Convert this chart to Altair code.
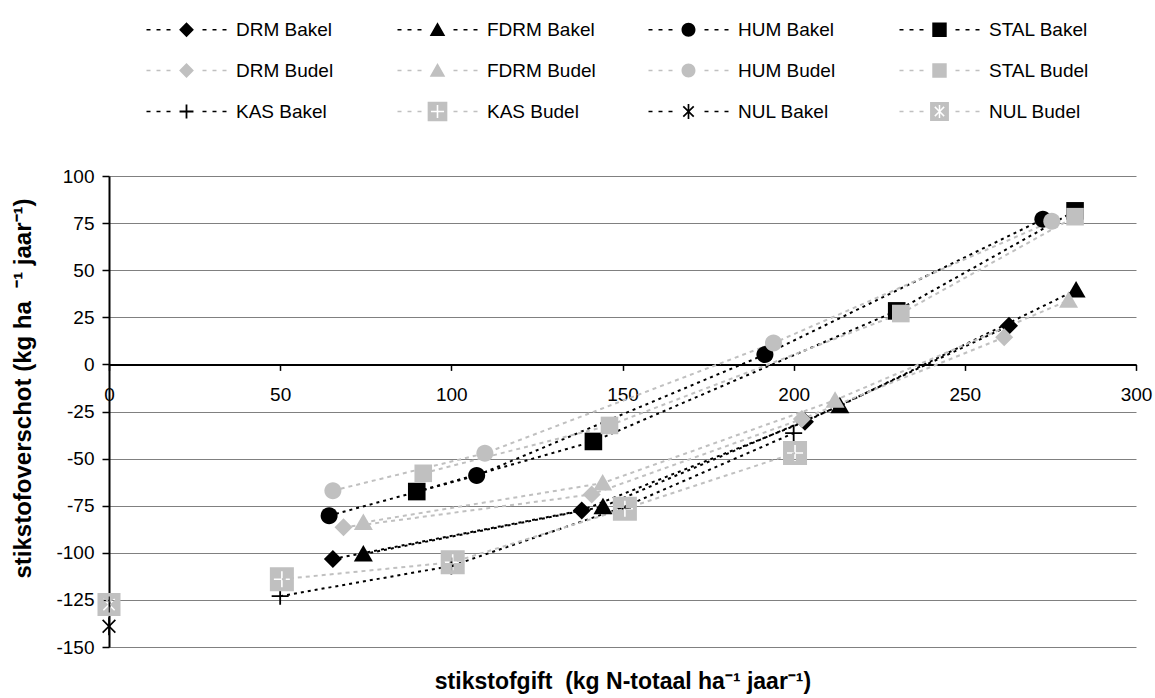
import math
import altair as alt
import pandas as pd

# ---- series names (legend order) ----
SERIES = [
    "DRM Bakel", "FDRM Bakel", "HUM Bakel", "STAL Bakel",
    "DRM Budel", "FDRM Budel", "HUM Budel", "STAL Budel",
    "KAS Bakel", "KAS Budel", "NUL Bakel", "NUL Budel",
]

# ---- stikstofgift (x) and stikstofoverschot (y) per series ----
drm_bakel_x = [65.4, 138.1, 203.3, 262.9]
drm_bakel_y = [-103.3, -77.5, -30.4, 20.5]
fdrm_bakel_x = [74.3, 144.3, 213.5, 282.5]
fdrm_bakel_y = [-100.7, -75.5, -22.0, 39.5]
hum_bakel_x = [64.3, 107.4, 191.6, 272.8]
hum_bakel_y = [-80.3, -59.0, 5.2, 77.0]
stal_bakel_x = [89.9, 141.5, 230.1, 282.2]
stal_bakel_y = [-67.5, -40.9, 28.4, 81.5]

drm_budel_x = [68.5, 141.0, 202.4, 261.5]
drm_budel_y = [-86.5, -69.0, -29.0, 14.4]
fdrm_budel_x = [74.3, 144.2, 212.1, 280.3]
fdrm_budel_y = [-83.9, -63.0, -19.0, 34.0]
hum_budel_x = [65.4, 109.8, 194.1, 275.4]
hum_budel_y = [-67.0, -47.2, 11.3, 76.0]
stal_budel_x = [91.8, 146.2, 231.3, 282.2]
stal_budel_y = [-57.8, -32.4, 27.0, 78.4]

kas_bakel_x = [50.0, 100.0, 150.0, 200.0]
kas_bakel_y = [-123.0, -107.0, -76.0, -36.5]
kas_budel_x = [50.5, 100.4, 150.7, 200.4]
kas_budel_y = [-114.0, -105.0, -76.6, -47.0]

nul_bakel_x = [0.0]
nul_bakel_y = [-139.0]
nul_budel_x = [0.0]
nul_budel_y = [-127.5]

x_ticks = [0, 50, 100, 150, 200, 250, 300]
y_ticks = [-150, -125, -100, -75, -50, -25, 0, 25, 50, 75, 100]

columns = [
    ("DRM Bakel", drm_bakel_x, drm_bakel_y),
    ("FDRM Bakel", fdrm_bakel_x, fdrm_bakel_y),
    ("HUM Bakel", hum_bakel_x, hum_bakel_y),
    ("STAL Bakel", stal_bakel_x, stal_bakel_y),
    ("DRM Budel", drm_budel_x, drm_budel_y),
    ("FDRM Budel", fdrm_budel_x, fdrm_budel_y),
    ("HUM Budel", hum_budel_x, hum_budel_y),
    ("STAL Budel", stal_budel_x, stal_budel_y),
    ("KAS Bakel", kas_bakel_x, kas_bakel_y),
    ("KAS Budel", kas_budel_x, kas_budel_y),
    ("NUL Bakel", nul_bakel_x, nul_bakel_y),
    ("NUL Budel", nul_budel_x, nul_budel_y),
]

rows = []
for name, xs, ys in columns:
    for xv, yv in zip(xs, ys):
        rows.append({"series": name,
                     "locatie": name.split()[-1],
                     "gift": xv, "overschot": yv})
df = pd.DataFrame(rows)

BLACK = "#000000"
GREY = "#c0c0c0"
colors = [BLACK if s.endswith("Bakel") else GREY for s in SERIES]

# ---- marker geometry (custom SVG symbol paths) ----
U = 8.5  # pixels per path unit at symbol size 289


def f(v):
    return f"{v / U:.3f}"


def signed_area(pts):
    a = 0.0
    for i in range(len(pts)):
        x1, y1 = pts[i]
        x2, y2 = pts[(i + 1) % len(pts)]
        a += x1 * y2 - x2 * y1
    return a / 2


def poly(pts):
    return "M" + "L".join(f"{f(x)},{f(y)}" for x, y in pts) + "Z"


def circle(r):
    return (f"M{f(-r)},0A{f(r)},{f(r)} 0 1,0 {f(r)},0"
            f"A{f(r)},{f(r)} 0 1,0 {f(-r)},0Z")


def square(h):
    return [(-h, -h), (h, -h), (h, h), (-h, h)]


def star(angles, length, thick):
    """Outline of thin arms radiating from the centre."""
    angles = sorted(angles)
    n = len(angles)
    pts = []
    for k, a in enumerate(angles):
        b = angles[(k + 1) % n] + (360 if k == n - 1 else 0)
        ar = math.radians(a)
        d = (math.cos(ar), math.sin(ar))
        nv = (-math.sin(ar), math.cos(ar))
        h = thick / 2
        pts.append((length * d[0] - h * nv[0], length * d[1] - h * nv[1]))
        pts.append((length * d[0] + h * nv[0], length * d[1] + h * nv[1]))
        mid = math.radians((a + b) / 2)
        dist = h / math.sin(math.radians((b - a) / 2))
        pts.append((dist * math.cos(mid), dist * math.sin(mid)))
    return pts


def box_with_hole(h, hole):
    outer = square(h)
    if (signed_area(outer) > 0) == (signed_area(hole) > 0):
        hole = hole[::-1]
    return poly(outer) + poly(hole)


PLUS = [0, 90, 180, 270]
ASTER = [45, 90, 135, 225, 270, 315]


def marker(name, s):
    kind = name.split()[0]
    if kind == "DRM":
        return poly([(0, -9 * s), (9 * s, 0), (0, 9 * s), (-9 * s, 0)])
    if kind == "FDRM":
        return poly([(0, -9 * s), (9.5 * s, 7.5 * s), (-9.5 * s, 7.5 * s)])
    if kind == "HUM":
        return circle(8.5 * s)
    if kind == "STAL":
        return poly(square(8.8 * s))
    if name == "KAS Bakel":
        return poly(star(PLUS, 8.5 * s, 1.8))
    if name == "KAS Budel":
        return box_with_hole(12 * s, star(PLUS, 8 * s, 1.6))
    if name == "NUL Bakel":
        return poly(star(ASTER, 9 * s, 1.7))
    return box_with_hole(11.5 * s, star(ASTER, 8 * s, 1.5))


def legend_symbol(name):
    dashes = ""
    for cx in (-38, -28, -18, 18, 28, 38):
        dashes += poly([(cx - 2, -0.8), (cx + 2, -0.8), (cx + 2, 0.8), (cx - 2, 0.8)])
    return dashes + marker(name, 0.82)


plot_shapes = [marker(s, 1.0) for s in SERIES]
legend_shapes = [legend_symbol(s) for s in SERIES]

FONT = "Liberation Sans"
NB = "\u00a0"

x_enc = alt.X(
    "gift:Q",
    scale=alt.Scale(domain=[0, 300], nice=False, zero=False),
    axis=alt.Axis(
        values=x_ticks, grid=False, offset=-282.6,
        domainColor=BLACK, domainWidth=2,
        tickColor=BLACK, tickWidth=1.5, tickSize=6,
        labelFont=FONT, labelFontSize=19, labelColor=BLACK,
        labelPadding=15, labelFlush=False,
        title=f"stikstofgift{NB}{NB}(kg N-totaal ha⁻¹ jaar⁻¹)",
        titleFont=FONT, titleFontSize=23, titleFontWeight="bold",
        titleColor=BLACK, titleY=316.6, titleBaseline="middle",
    ),
)
y_enc = alt.Y(
    "overschot:Q",
    scale=alt.Scale(domain=[-150, 100], nice=False, zero=False),
    axis=alt.Axis(
        values=y_ticks, grid=True, gridColor="#808080", gridWidth=1,
        domainColor=BLACK, domainWidth=2,
        tickColor=BLACK, tickWidth=1.5, tickSize=7,
        labelFont=FONT, labelFontSize=19, labelColor=BLACK,
        labelPadding=8, labelExpr="'' + datum.value",
        title=f"stikstofoverschot (kg ha{NB}{NB}⁻¹ jaar⁻¹)",
        titleFont=FONT, titleFontSize=24, titleFontWeight="bold",
        titleColor=BLACK, titleAngle=270, titleX=-86, titleY=212,
        titleBaseline="middle", titleAlign="center",
    ),
)

base = alt.Chart(df)

bakel_lines = base.transform_filter("datum.locatie == 'Bakel'").mark_line(
    color=BLACK, strokeWidth=2, strokeDash=[3, 4]
).encode(x=x_enc, y=y_enc, detail="series:N")

budel_lines = base.transform_filter("datum.locatie == 'Budel'").mark_line(
    color=GREY, strokeWidth=2, strokeDash=[4, 4]
).encode(x=x_enc, y=y_enc, detail="series:N")

points = base.mark_point(filled=True, size=289, strokeWidth=0, opacity=1).encode(
    x=x_enc, y=y_enc,
    shape=alt.Shape("series:N", scale=alt.Scale(domain=SERIES, range=plot_shapes), legend=None),
    color=alt.Color("series:N", scale=alt.Scale(domain=SERIES, range=colors), legend=None),
)

legend = alt.Legend(
    title=None, orient="none", legendX=68, legendY=-156,
    direction="horizontal", columns=4, gridAlign="all",
    symbolSize=289, symbolStrokeWidth=0, symbolOpacity=1,
    labelFont=FONT, labelFontSize=19, labelColor=BLACK,
    labelOffset=40, labelLimit=300, labelBaseline="middle",
    columnPadding=52, rowPadding=20,
)

legend_layer = base.transform_filter("false").mark_point(
    filled=True, size=289, strokeWidth=0, opacity=1
).encode(
    x=x_enc, y=y_enc,
    shape=alt.Shape("series:N", scale=alt.Scale(domain=SERIES, range=legend_shapes), legend=legend),
    color=alt.Color("series:N", scale=alt.Scale(domain=SERIES, range=colors), legend=legend),
)

chart = alt.layer(
    bakel_lines, budel_lines, points, legend_layer
).resolve_scale(
    shape="independent", color="independent"
).properties(
    width=1027, height=471, autosize="none",
    padding={"left": 109, "top": 176, "right": 19, "bottom": 51},
    background="white",
).configure_view(stroke=None)

chart.save("out.html", embed_options={"renderer": "svg", "actions": False})
